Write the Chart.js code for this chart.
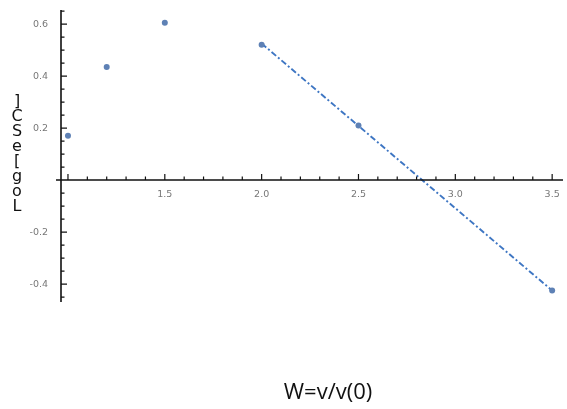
<!DOCTYPE html>
<html lang="en">
<head>
<meta charset="UTF-8">
<title>Log vs W</title>
<script src="https://cdn.jsdelivr.net/npm/chart.js"></script>
<style>
  html, body { margin: 0; padding: 0; background: #fff; }
  canvas { display: block; }
</style>
</head>
<body>
<canvas id="myChart" width="567" height="409"></canvas>
<script>
// data
const wValues = [1.0, 1.2, 1.5, 2.0, 2.5, 3.5];
const logValues = [0.17, 0.435, 0.605, 0.52, 0.21, -0.425];

// fitted line (dashed)
const fitW = [2.0, 3.5];
const fitLog = [0.525, -0.425];

// tick labels
const xTickLabels = ['1.5', '2.0', '2.5', '3.0', '3.5'];
const yTickLabels = ['0.6', '0.4', '0.2', '-0.2', '-0.4'];

const xTitle = 'W=v/v(0)';
const yTitleChars = ['L', 'o', 'g', '[', 'e', 'S', 'C', ']']; // stacked, bottom to top

// draws Mathematica style axes through the origin
const axesPlugin = {
  id: 'axes',
  afterDraw(chart) {
    const ctx = chart.ctx;
    const xs = chart.scales.x;
    const ys = chart.scales.y;
    const y0 = ys.getPixelForValue(0);
    const xLeft = chart.chartArea.left;

    ctx.save();
    ctx.strokeStyle = '#111';
    ctx.lineWidth = 1.6;

    // axis lines
    ctx.beginPath();
    ctx.moveTo(xLeft - 5, y0);
    ctx.lineTo(chart.chartArea.right, y0);
    ctx.moveTo(xLeft, chart.chartArea.top);
    ctx.lineTo(xLeft, chart.chartArea.bottom);
    ctx.stroke();

    // x ticks every 0.1, major every 0.5
    ctx.lineWidth = 1.2;
    ctx.beginPath();
    for (let i = 10; i <= 35; i++) {
      const px = xs.getPixelForValue(i / 10);
      const len = i % 5 === 0 ? 6 : 3.5;
      ctx.moveTo(px, y0);
      ctx.lineTo(px, y0 - len);
    }
    // y ticks every 0.05, major every 0.2
    for (let i = -9; i <= 13; i++) {
      if (i === 0) continue;
      const py = ys.getPixelForValue(i / 20);
      const len = i % 4 === 0 ? 6 : 3.5;
      ctx.moveTo(xLeft, py);
      ctx.lineTo(xLeft + len, py);
    }
    ctx.stroke();

    // tick labels
    ctx.fillStyle = '#777';
    ctx.font = '9.5px "DejaVu Sans"';
    ctx.textAlign = 'center';
    ctx.textBaseline = 'middle';
    xTickLabels.forEach(t => {
      ctx.fillText(t, xs.getPixelForValue(parseFloat(t)), y0 + 14);
    });
    ctx.textAlign = 'right';
    yTickLabels.forEach(t => {
      ctx.fillText(t, xLeft - 13, ys.getPixelForValue(parseFloat(t)));
    });

    // axis titles
    ctx.fillStyle = '#111';
    ctx.font = '22px "Open Sans"';
    ctx.textAlign = 'center';
    ctx.textBaseline = 'alphabetic';
    ctx.fillText(xTitle, 328, 399);

    ctx.font = '16px "DejaVu Sans"';
    ctx.textBaseline = 'middle';
    yTitleChars.forEach((c, i) => {
      ctx.fillText(c, 17, 207 - i * 15);
    });
    ctx.restore();
  }
};

const ctx = document.getElementById('myChart').getContext('2d');
const myChart = new Chart(ctx, {
  type: 'scatter',
  data: {
    datasets: [{
      label: 'data',
      data: wValues.map((w, i) => ({ x: w, y: logValues[i] })),
      backgroundColor: '#5E81B5',
      borderColor: '#5E81B5',
      pointRadius: 3,
      pointBorderWidth: 0
    }, {
      label: 'fit',
      type: 'line',
      data: fitW.map((w, i) => ({ x: w, y: fitLog[i] })),
      borderColor: '#3E76C3',
      borderWidth: 1.9,
      borderDash: [6, 2.5, 2, 2.5],
      pointRadius: 0,
      fill: false
    }]
  },
  options: {
    responsive: false,
    devicePixelRatio: 1,
    animation: false,
    layout: { padding: { left: 61, right: 1, top: 10, bottom: 107 } },
    plugins: {
      legend: { display: false },
      tooltip: { enabled: false }
    },
    scales: {
      x: { type: 'linear', display: false, min: 0.964, max: 3.556 },
      y: { type: 'linear', display: false, min: -0.469, max: 0.654 }
    }
  },
  plugins: [axesPlugin]
});
</script>
</body>
</html>
